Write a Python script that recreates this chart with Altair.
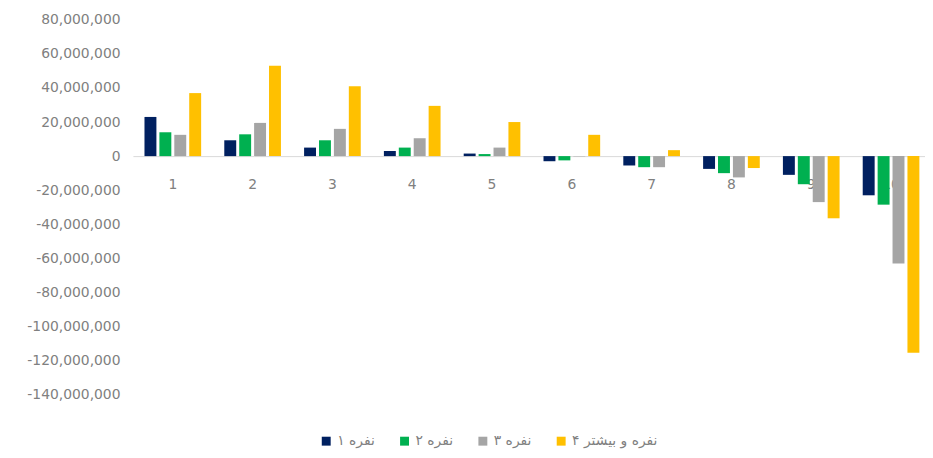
import altair as alt
import pandas as pd

# categories (deciles)
deciles = [1, 2, 3, 4, 5, 6, 7, 8, 9, 10]
# series names (household size)
series = ["نفره ۱", "نفره ۲", "نفره ۳", "نفره و بیشتر ۴"]
colors = ["#002060", "#00B050", "#A5A5A5", "#FFC000"]

# values in millions
v1 = [23.0, 9.3, 5.0, 3.0, 1.5, -3.0, -5.5, -7.5, -11.0, -23.0]
v2 = [14.0, 12.8, 9.3, 5.0, 1.2, -2.5, -6.5, -10.0, -16.5, -28.5]
v3 = [12.5, 19.5, 16.0, 10.5, 5.0, -0.2, -6.5, -12.5, -27.0, -63.0]
v4 = [37.0, 53.0, 41.0, 29.5, 20.0, 12.5, 3.5, -7.0, -36.5, -115.5]

y_ticks = [80, 60, 40, 20, 0, -20, -40, -60, -80, -100, -120, -140]

rows = []
for s, vals in zip(series, [v1, v2, v3, v4]):
    for d, v in zip(deciles, vals):
        rows.append({"decile": d, "series": s, "value": v * 1e6})
df = pd.DataFrame(rows)

H = 378
zero_from_top = H * 80 / 220
axis_offset = -(H - zero_from_top)

label_color = "#808080"

chart = alt.Chart(df).mark_bar().encode(
    x=alt.X(
        "decile:N",
        sort=deciles,
        scale=alt.Scale(paddingInner=0.29, paddingOuter=0.145),
        axis=alt.Axis(
            title=None,
            labelAngle=0,
            orient="bottom",
            offset=axis_offset,
            ticks=False,
            labelPadding=22,
            domainColor="#D9D9D9",
            domainWidth=1,
            labelColor=label_color,
            labelFontSize=14,
            labelFont="DejaVu Sans",
        ),
    ),
    xOffset=alt.XOffset("series:N", sort=series, scale=alt.Scale(paddingInner=0.2)),
    y=alt.Y(
        "value:Q",
        scale=alt.Scale(domain=[-140e6, 80e6], nice=False, zero=False),
        axis=alt.Axis(
            title=None,
            values=[t * 1e6 for t in y_ticks],
            grid=False,
            domain=False,
            ticks=False,
            labelPadding=13,
            labelColor=label_color,
            labelFontSize=14,
            labelFont="DejaVu Sans",
            labelExpr="replace(format(datum.value, ',.0f'), '\u2212', '-')",
        ),
    ),
    color=alt.Color(
        "series:N",
        sort=series,
        scale=alt.Scale(domain=series, range=colors),
        legend=alt.Legend(
            title=None,
            orient="none",
            legendX=188,
            legendY=418,
            direction="horizontal",
            symbolType="square",
            symbolSize=81,
            symbolStrokeWidth=0,
            labelFont="DejaVu Sans",
            labelFontSize=14,
            labelColor=label_color,
            labelOffset=4,
            columnPadding=22,
        ),
    ),
).properties(
    width=805,
    height=H,
    autosize=alt.AutoSizeParams(type="none"),
    padding={"left": 126, "top": 10, "right": -6, "bottom": 60},
).configure_view(stroke=None)

chart.save("out.html", embed_options={"renderer": "svg", "actions": False})
